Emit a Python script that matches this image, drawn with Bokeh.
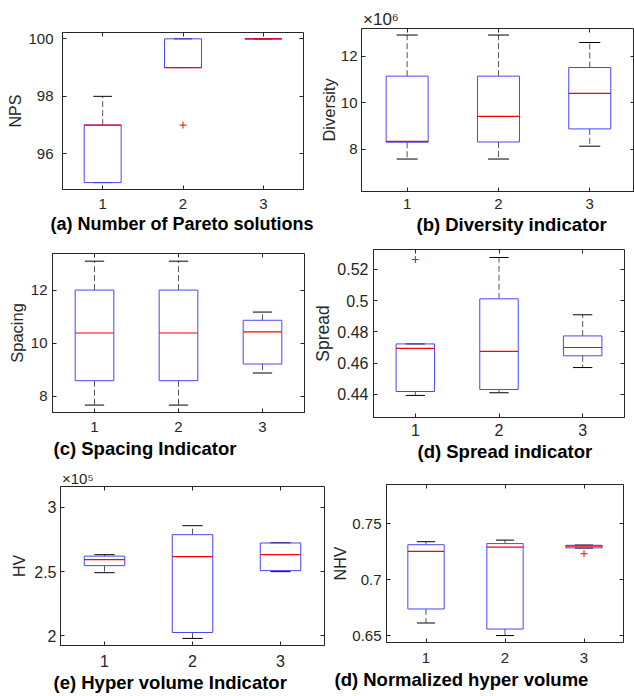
from bokeh.plotting import figure
from bokeh.layouts import column, row
from bokeh.models import Range1d, FixedTicker, LinearAxis, Title, CustomJSTickFormatter
from bokeh.embed import file_html
from bokeh.resources import INLINE

groups = [1, 2, 3]

# (a) Number of Pareto solutions
nps_upper = [98, 100, 100]
nps_q3 = [97, 100, 100]
nps_median = [97, 99, 100]
nps_q1 = [95, 99, 100]
nps_lower = [95, 99, 100]
nps_out_x = [2]
nps_out_y = [97]
nps_ticks = [96, 98, 100]

# (b) Diversity indicator
div_upper = [12.90e6, 12.90e6, 12.58e6]
div_q3 = [11.14e6, 11.14e6, 11.51e6]
div_median = [8.35e6, 9.42e6, 10.40e6]
div_q1 = [8.31e6, 8.32e6, 8.88e6]
div_lower = [7.59e6, 7.59e6, 8.14e6]
div_out_x = []
div_out_y = []
div_ticks = [8e6, 10e6, 12e6]

# (c) Spacing indicator
spa_upper = [13.09, 13.09, 11.17]
spa_q3 = [12.00, 12.00, 10.86]
spa_median = [10.38, 10.38, 10.42]
spa_q1 = [8.58, 8.58, 9.21]
spa_lower = [7.66, 7.66, 8.87]
spa_out_x = []
spa_out_y = []
spa_ticks = [8, 10, 12]

# (d) Spread indicator
spr_upper = [0.4723, 0.5275, 0.4909]
spr_q3 = [0.4723, 0.5011, 0.4774]
spr_median = [0.4694, 0.4675, 0.4700]
spr_q1 = [0.4419, 0.4432, 0.4647]
spr_lower = [0.4394, 0.4411, 0.4572]
spr_out_x = [1]
spr_out_y = [0.5262]
spr_ticks = [0.44, 0.46, 0.48, 0.50, 0.52]

# (e) Hyper volume indicator
hv_upper = [2.632e5, 2.858e5, 2.725e5]
hv_q3 = [2.621e5, 2.788e5, 2.723e5]
hv_median = [2.594e5, 2.617e5, 2.632e5]
hv_q1 = [2.547e5, 2.026e5, 2.508e5]
hv_lower = [2.492e5, 1.980e5, 2.500e5]
hv_out_x = []
hv_out_y = []
hv_ticks = [2e5, 2.5e5, 3e5]

# (f) Normalized hyper volume
nhv_upper = [0.7340, 0.7354, 0.7310]
nhv_q3 = [0.7313, 0.7323, 0.7308]
nhv_median = [0.7254, 0.7291, 0.7300]
nhv_q1 = [0.6740, 0.6561, 0.7285]
nhv_lower = [0.6615, 0.6503, 0.7283]
nhv_out_x = [3]
nhv_out_y = [0.7233]
nhv_ticks = [0.65, 0.70, 0.75]

FONT = "Liberation Sans"
AXC = "#262626"
BLUE = "#4646ff"
HW = 0.23    # half box width
CAP = 0.115  # half cap width


def panel(size, borders, x_end, y_rng, stats, outliers, ticks, ylabel, title,
          tick_fs, lab_fs, ystand, lstand, xstand, tdx, tstand, title_fs=18.5,
          fmt=None, exp=None):
    W, H = size
    bl, br, bt, bb = borders
    upper, q3, med, q1, lower = stats
    ox, oy = outliers
    p = figure(width=W, height=H, min_border_left=bl, min_border_right=br,
               min_border_top=bt, min_border_bottom=bb,
               x_range=Range1d(0.5, x_end), y_range=Range1d(*y_rng),
               output_backend="svg", toolbar_location=None, tools="")
    if "frame_align" in p.properties():
        p.frame_align = False
    p.background_fill_color = "white"
    p.border_fill_color = "white"
    p.outline_line_color = AXC
    p.outline_line_width = 1
    p.xgrid.visible = False
    p.ygrid.visible = False

    for ax in (p.xaxis[0], p.yaxis[0]):
        ax.axis_line_color = AXC
        ax.major_tick_line_color = AXC
        ax.major_tick_in = 4
        ax.major_tick_out = 0
        ax.minor_tick_line_color = None
        ax.major_label_text_font = FONT
        ax.major_label_text_font_size = f"{tick_fs}px"
        ax.major_label_text_color = AXC
    p.xaxis.ticker = FixedTicker(ticks=groups)
    p.yaxis.ticker = FixedTicker(ticks=ticks)
    p.xaxis.major_label_standoff = xstand
    p.yaxis.major_label_standoff = ystand
    if fmt is not None:
        p.yaxis.formatter = CustomJSTickFormatter(code=fmt)
    p.yaxis.axis_label = ylabel
    p.yaxis.axis_label_text_font = FONT
    p.yaxis.axis_label_text_font_style = "normal"
    p.yaxis.axis_label_text_font_size = f"{lab_fs}px"
    p.yaxis.axis_label_text_color = AXC
    p.yaxis.axis_label_standoff = lstand

    # mirrored ticks on the top and right edges (box on)
    for place, tk in (("right", ticks), ("above", groups)):
        m = LinearAxis(ticker=FixedTicker(ticks=tk), major_tick_in=4, major_tick_out=0,
                       minor_tick_line_color=None, axis_line_color=None,
                       major_tick_line_color=AXC, major_label_text_font_size="0px",
                       major_label_text_color=None, major_label_standoff=0)
        p.add_layout(m, place)

    # whiskers
    p.segment(x0=groups, y0=q3, x1=groups, y1=upper, line_color="#555555",
              line_dash="6 3", line_width=1)
    p.segment(x0=groups, y0=q1, x1=groups, y1=lower, line_color="#555555",
              line_dash="6 3", line_width=1)
    # caps
    p.segment(x0=[g - CAP for g in groups], y0=upper, x1=[g + CAP for g in groups],
              y1=upper, line_color="black", line_width=1)
    p.segment(x0=[g - CAP for g in groups], y0=lower, x1=[g + CAP for g in groups],
              y1=lower, line_color="black", line_width=1)
    # boxes
    p.vbar(x=groups, width=2 * HW, bottom=q1, top=q3, fill_color=None,
           line_color=BLUE, line_width=1)
    # medians
    p.segment(x0=[g - HW for g in groups], y0=med, x1=[g + HW for g in groups],
              y1=med, line_color="#ff0000", line_width=1.2)
    # outliers
    if ox:
        p.scatter(ox, oy, marker="cross", size=7, line_color="#ff0000", line_width=1)

    p.add_layout(Title(text=title, align="left", offset=tdx, standoff=tstand,
                       text_font=FONT, text_font_style="bold",
                       text_font_size=f"{title_fs}px", text_color="black"), "below")
    if exp is not None:
        e_text, e_fs = exp
        p.add_layout(Title(text=e_text, align="left", offset=1.5, standoff=0,
                           text_font=FONT, text_font_style="normal",
                           text_font_size=f"{e_fs}px", text_color=AXC), "above")
    return p


PCT = "return String(parseFloat(tick.toFixed(4)));"

# row 1: 0..241
pa = panel((314, 241), (62, 11, 32, 52), 3.5, (94.76, 100.22),
           (nps_upper, nps_q3, nps_median, nps_q1, nps_lower), (nps_out_x, nps_out_y),
           nps_ticks, "NPS", "(a) Number of Pareto solutions",
           tick_fs=15, lab_fs=16, ystand=9, lstand=1, xstand=9, tdx=-12, tstand=0,
           title_fs=18)
pb = panel((320, 241), (47, 0, 28, 50), 3.49, (6.2e6, 13.18e6),
           (div_upper, div_q3, div_median, div_q1, div_lower), (div_out_x, div_out_y),
           div_ticks, "Diversity", "(b) Diversity indicator",
           tick_fs=15, lab_fs=16.5, ystand=4, lstand=0, xstand=7, tdx=55, tstand=0,
           fmt="return (tick/1e6).toFixed(0);", exp=("×10⁶", 17))
# row 2: 241..467
pc = panel((310, 226), (52, 6, 12, 55), 3.5, (7.38, 13.38),
           (spa_upper, spa_q3, spa_median, spa_q1, spa_lower), (spa_out_x, spa_out_y),
           spa_ticks, "Spacing", "(c) Spacing Indicator",
           tick_fs=15, lab_fs=16.5, ystand=5, lstand=2, xstand=9, tdx=1, tstand=3)
pd_ = panel((324, 226), (62, 10, 8, 50), 3.5, (0.4253, 0.5326),
            (spr_upper, spr_q3, spr_median, spr_q1, spr_lower), (spr_out_x, spr_out_y),
            spr_ticks, "Spread", "(d) Spread indicator",
            tick_fs=16, lab_fs=17.5, ystand=5, lstand=1, xstand=6, tdx=44, tstand=0,
            fmt=PCT)
# row 3: 467..696
pe = panel((328, 229), (60, 4, 19, 51), 3.5, (1.925e5, 3.163e5),
           (hv_upper, hv_q3, hv_median, hv_q1, hv_lower), (hv_out_x, hv_out_y),
           hv_ticks, "HV", "(e) Hyper volume Indicator",
           tick_fs=16, lab_fs=16, ystand=4, lstand=3, xstand=9, tdx=-7, tstand=0,
           fmt="return String(parseFloat((tick/1e5).toFixed(2)));", exp=("×10⁵", 15))
pf = panel((306, 229), (58, 11, 17, 54), 3.5, (0.6441, 0.785),
           (nhv_upper, nhv_q3, nhv_median, nhv_q1, nhv_lower), (nhv_out_x, nhv_out_y),
           nhv_ticks, "NHV", "(d) Normalized hyper volume",
           tick_fs=15, lab_fs=16, ystand=5, lstand=0, xstand=10, tdx=-52, tstand=3,
           fmt=PCT)

layout = column(row(pa, pb, spacing=0), row(pc, pd_, spacing=0), row(pe, pf, spacing=0),
                spacing=0)

open("out.html", "w").write(file_html(layout, INLINE))
